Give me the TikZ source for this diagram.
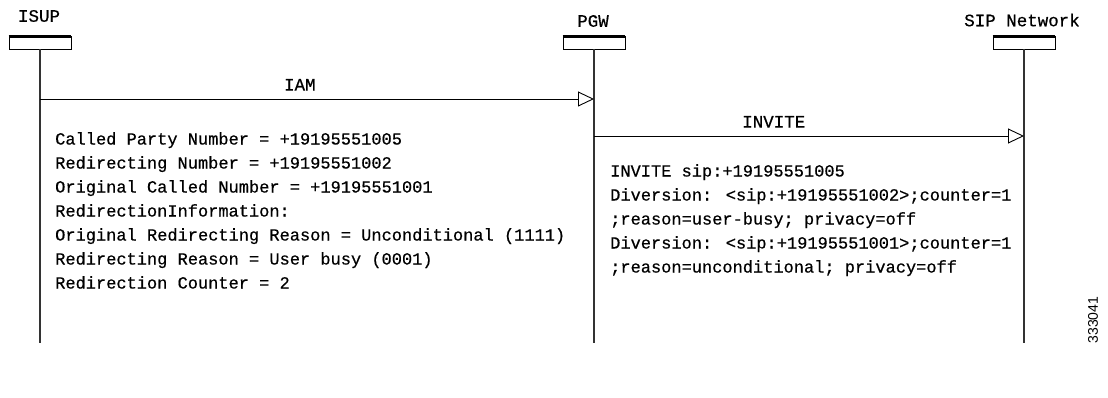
\documentclass[tikz,border=0pt]{standalone}
\usepackage{fontspec}
\setmainfont{Liberation Serif}
\newfontfamily\monof[FakeBold=0.5]{Liberation Mono}
\newfontfamily\sansf{Liberation Sans}
\usetikzlibrary{arrows.meta}
\tikzset{
  headbox/.style={draw=black, fill=white, line width=0.8pt, minimum width=62pt, minimum height=13pt, inner sep=0pt},
  headlabel/.style={font=\monof\fontsize{17.5}{17.5}\selectfont, inner sep=0pt},
  lifeline/.style={draw=black!80, line width=1.2pt},
  msg/.style={draw=black, line width=0.9pt, -{Triangle[open, length=16pt, width=15pt, line width=0.9pt]}},
  msglabel/.style={font=\monof\fontsize{17.5}{17.5}\selectfont, inner sep=0pt},
  infotext/.style={font=\monof\fontsize{17}{24}\selectfont, align=left, inner sep=0pt, anchor=north west}
}
\begin{document}
\begin{tikzpicture}[x=1pt, y=-1pt]
\useasboundingbox (0,0) rectangle (1108,398);
% heads
\node[headlabel] (lISUP) at (39,16) {ISUP};
\node[headlabel] (lPGW) at (593,21) {PGW};
\node[headlabel] (lSIP) at (1022,20) {SIP Network};
\node[headbox] (bISUP) at (40,42.5) {};
\node[headbox] (bPGW) at (594,42.5) {};
\node[headbox] (bSIP) at (1024,42.5) {};
\foreach \b in {bISUP,bPGW,bSIP}{
  \draw[line width=2.6pt] ([yshift=-1pt]\b.north west) -- ([yshift=-1pt]\b.north east);
}
% lifeline ends
\coordinate (eISUP) at (40,343);
\coordinate (ePGW) at (594,343);
\coordinate (eSIP) at (1024,343);
\draw[lifeline] (bISUP.south) -- (eISUP);
\draw[lifeline] (bPGW.south) -- (ePGW);
\draw[lifeline] (bSIP.south) -- (eSIP);
% messages
\coordinate (iamS) at (40,99);
\coordinate (iamE) at (594,99);
\coordinate (invS) at (594,136);
\coordinate (invE) at (1024,136);
\draw[msg] (iamS) -- (iamE) node[msglabel, pos=0.469, above=8pt] (lIAM) {IAM};
\draw[msg] (invS) -- (invE) node[msglabel, pos=0.418, above=8pt] (lINV) {INVITE};
% info texts
\node[infotext] (tISUP) at (55,132) {Called Party Number = +19195551005\\
Redirecting Number = +19195551002\\
Original Called Number = +19195551001\\
RedirectionInformation:\\
Original Redirecting Reason = Unconditional (1111)\\
Redirecting Reason = User busy (0001)\\
Redirection Counter = 2};
\node[infotext] (tSIP) at (610,164) {INVITE sip:+19195551005\\
Diversion: <sip:+19195551002>;counter=1\\
;reason=user-busy; privacy=off\\
Diversion: <sip:+19195551001>;counter=1\\
;reason=unconditional; privacy=off};
% figure number
\node[font=\sansf\fontsize{14}{14}\selectfont, rotate=90, inner sep=0pt] (fig) at (1093,320) {333041};
\end{tikzpicture}
\end{document}
